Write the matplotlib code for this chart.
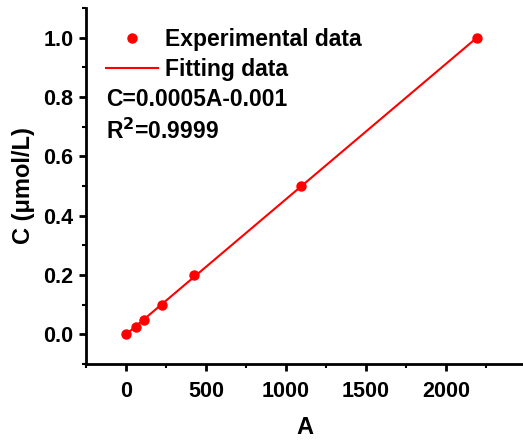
import numpy as np
import matplotlib.pyplot as plt

plt.rcParams['font.family'] = ['Liberation Sans', 'DejaVu Sans']
plt.rcParams['font.weight'] = 'bold'

# data
absorb = [0, 65, 112, 225, 425, 1095, 2195]
conc = [0, 0.025, 0.05, 0.1, 0.2, 0.5, 1.0]
xticks = [0, 500, 1000, 1500, 2000]
yticks = [0.0, 0.2, 0.4, 0.6, 0.8, 1.0]

fig = plt.figure(figsize=(5.23, 4.43), dpi=100)
ax = fig.add_axes([0.1644, 0.1783, 0.8356, 0.8037])

# fitted line
k, b = np.polyfit(absorb, conc, 1)
xf = np.array([min(absorb), max(absorb)])
ax.plot(xf, k * xf + b, color='#ff0000', lw=1.5, label='Fitting data', zorder=2)
ax.plot(absorb, conc, 'o', color='#ff0000', ms=6.5, label='Experimental data', zorder=3)

ax.set_xlim(-250, 2480)
ax.set_ylim(-0.1, 1.1)
ax.set_xticks(xticks)
ax.set_xticks(np.arange(-250, 2480, 250), minor=True)
ax.set_yticks(yticks)
ax.set_yticks(np.arange(-0.1, 1.11, 0.1), minor=True)
ax.set_yticklabels(['%.1f' % t for t in yticks])

for s in ['top', 'right']:
    ax.spines[s].set_visible(False)
for s in ['left', 'bottom']:
    ax.spines[s].set_linewidth(2)
ax.tick_params(which='major', direction='out', length=5, width=2, labelsize=15.5, pad=4)
ax.tick_params(axis='x', which='major', pad=7)
ax.tick_params(which='minor', direction='out', length=3, width=1.5)

ax.set_xlabel('A', fontsize=17, fontweight='bold', labelpad=10)
ax.set_ylabel('C (μmol/L)', fontsize=17, fontweight='bold', labelpad=6)

h, l = ax.get_legend_handles_labels()
ax.legend(h[::-1], l[::-1], loc='upper left', bbox_to_anchor=(0.045, 0.945), frameon=False,
          prop={'size': 16.5, 'weight': 'bold'}, handlelength=2.3, handletextpad=0.3,
          labelspacing=0.33, borderaxespad=0.0, borderpad=0.0)

ax.text(0.045, 0.744, 'C=0.0005A-0.001', transform=ax.transAxes, fontsize=16.5,
        fontweight='bold', va='center')
ax.text(0.045, 0.655, 'R$^\\mathbf{2}$=0.9999', transform=ax.transAxes, fontsize=16.5,
        fontweight='bold', va='center')

fig.savefig('out.png', dpi=100)
